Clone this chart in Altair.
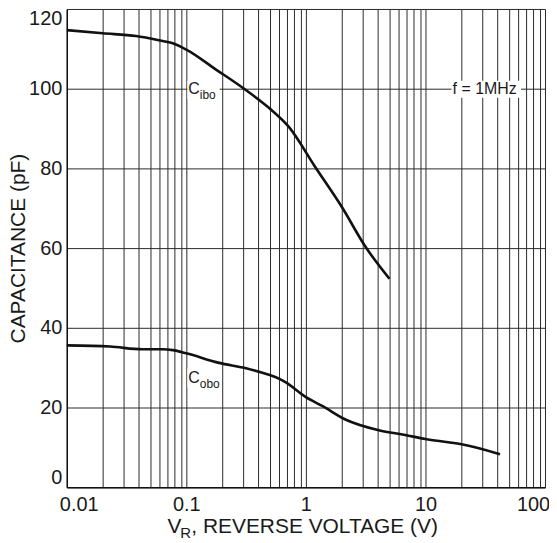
import altair as alt
import pandas as pd

# ---- data ----
cibo_v = [0.01, 0.02, 0.038, 0.06, 0.077, 0.1, 0.177, 0.3, 0.49, 0.72, 1.2, 2.0, 3.14, 5.0]
cibo_c = [114.7, 113.9, 113.2, 112.1, 111.4, 109.8, 104.8, 100.1, 95.2, 90.4, 80.3, 70.3, 60.4, 52.3]

cobo_v = [0.01, 0.023, 0.043, 0.063, 0.077, 0.1, 0.188, 0.31, 0.49, 0.6, 0.68, 1.0, 1.37, 2.14,
          4.07, 6.77, 10.0, 15.5, 20.0, 42.0]
cobo_c = [35.6, 35.3, 34.6, 34.6, 34.4, 33.6, 31.2, 29.9, 28.2, 27.2, 26.3, 22.6, 20.4, 17.0,
          14.3, 13.1, 12.1, 11.3, 10.8, 8.3]

x_grid = [round(m * 10.0 ** k, 6) for k in range(-2, 2) for m in range(1, 10)] + [100]
y_ticks = [0, 20, 40, 60, 80, 100, 120]

label_names = ["C", "C"]
label_subs = ["ibo", "obo"]
label_v = [0.1, 0.1]
label_c = [100.0, 27.5]

freq_text = "f = 1MHz"

FONT = "Liberation Sans"

curves = pd.DataFrame({
    "v": cibo_v + cobo_v,
    "c": cibo_c + cobo_c,
    "series": ["Cibo"] * len(cibo_v) + ["Cobo"] * len(cobo_v),
})
labels = pd.DataFrame({"v": label_v, "c": label_c, "main": label_names, "sub": label_subs})
boxes = pd.DataFrame({
    "v1": [0.102, 0.102, 16.5],
    "v2": [0.19, 0.19, 63.0],
    "c1": [97.4, 25.0, 97.7],
    "c2": [102.0, 29.8, 102.0],
})
freq = pd.DataFrame({"v": [31.3], "c": [100.0], "t": [freq_text]})

x_scale = alt.Scale(type="log", domain=[0.01, 100], nice=False, padding=0)
y_scale = alt.Scale(domain=[0, 120], nice=False, padding=0, zero=False)

x_axis = alt.Axis(
    values=x_grid, grid=True, gridColor="#2b2b2b", gridWidth=1, gridOpacity=1,
    ticks=False, domainColor="#111111", domainWidth=1.4,
    labelExpr="(datum.value == 0.01 || datum.value == 0.1 || datum.value == 1 || datum.value == 10 || datum.value == 100) ? format(datum.value, '~g') : ''",
    labelOverlap=False, labelFlush=False, labelFont=FONT, labelFontSize=20, labelColor="#1a1a1a",
    labelPadding=7, labelBaseline="top",
    labelOffset={"expr": "datum.value < 0.015 ? 12 : (datum.value > 50 ? -12 : 0)"},
    title=None,
)
y_axis = alt.Axis(
    values=y_ticks, grid=True, gridColor="#2b2b2b", gridWidth=1, gridOpacity=1,
    ticks=False, domainColor="#111111", domainWidth=1.4,
    labelFont=FONT, labelFontSize=20, labelColor="#1a1a1a", labelPadding=5,
    labelFlush=True, labelOverlap=False,
    title="CAPACITANCE (pF)", titleFont=FONT, titleFontSize=21, titleFontWeight="normal",
    titleColor="#1a1a1a", titleX=-42, titleY=240, titleAngle=270,
    titleAlign="center", titleBaseline="alphabetic",
)

lines = alt.Chart(curves).mark_line(color="#111111", strokeWidth=2.6, interpolate="monotone",
                                    strokeJoin="round", strokeCap="butt").encode(
    x=alt.X("v:Q", scale=x_scale, axis=x_axis),
    y=alt.Y("c:Q", scale=y_scale, axis=y_axis),
    detail="series:N",
)

box_marks = alt.Chart(boxes).mark_rect(color="white").encode(
    x=alt.X("v1:Q", scale=x_scale), x2="v2:Q",
    y=alt.Y("c1:Q", scale=y_scale), y2="c2:Q",
)

main_txt = alt.Chart(labels).mark_text(align="left", baseline="middle", font=FONT, fontSize=16,
                                        color="#1a1a1a", dx=2).encode(
    x=alt.X("v:Q", scale=x_scale), y=alt.Y("c:Q", scale=y_scale), text="main:N")
sub_txt = alt.Chart(labels).mark_text(align="left", baseline="middle", font=FONT, fontSize=12,
                                       color="#1a1a1a", dx=13.5, dy=6).encode(
    x=alt.X("v:Q", scale=x_scale), y=alt.Y("c:Q", scale=y_scale), text="sub:N")

freq_txt = alt.Chart(freq).mark_text(align="center", baseline="middle", font=FONT, fontSize=16,
                                      color="#1a1a1a").encode(
    x=alt.X("v:Q", scale=x_scale), y=alt.Y("c:Q", scale=y_scale), text="t:N")

# x-axis title with subscript, placed below the axis
xt_v = alt.Chart(pd.DataFrame({"t": ["V"]})).mark_text(
    align="left", baseline="alphabetic", font=FONT, fontSize=21, color="#1a1a1a").encode(
    x=alt.value(101), y=alt.value(526), text="t:N")
xt_r = alt.Chart(pd.DataFrame({"t": ["R"]})).mark_text(
    align="left", baseline="alphabetic", font=FONT, fontSize=15, color="#1a1a1a").encode(
    x=alt.value(114), y=alt.value(531), text="t:N")
xt_rest = alt.Chart(pd.DataFrame({"t": [", REVERSE VOLTAGE (V)"]})).mark_text(
    align="left", baseline="alphabetic", font=FONT, fontSize=21, color="#1a1a1a").encode(
    x=alt.value(125), y=alt.value(526), text="t:N")

chart = alt.layer(lines, box_marks, main_txt, sub_txt, freq_txt, xt_v, xt_r, xt_rest).properties(
    width=480, height=480,
    autosize=alt.AutoSizeParams(type="none"),
    padding={"left": 59, "top": 0, "right": 4, "bottom": 55},
).configure_view(stroke=None).configure(background="white")

chart.save("out.html", embed_options={"renderer": "svg", "actions": False})
